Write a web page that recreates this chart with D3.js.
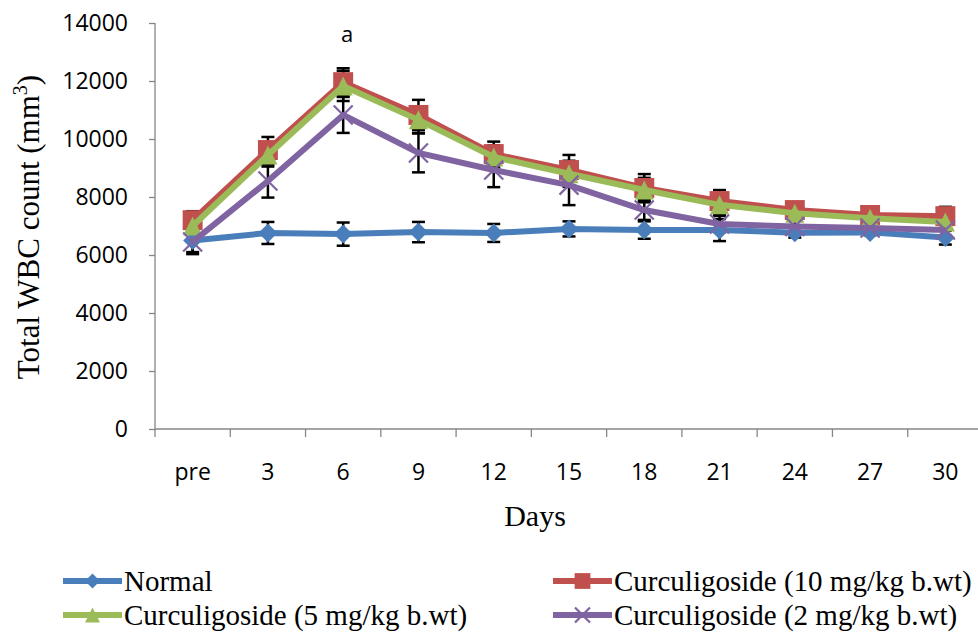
<!DOCTYPE html>
<html><head><meta charset="utf-8">
<script src="https://cdn.jsdelivr.net/npm/d3@7"></script>
<style>body{margin:0;background:#fff}svg{display:block}</style>
</head><body><svg id="c" width="978" height="635"></svg>
<script>
const days = ["pre","3","6","9","12","15","18","21","24","27","30"];
const yTicks = [0,2000,4000,6000,8000,10000,12000,14000];
const seriesNames = ["Normal","Curculigoside (10 mg/kg b.wt)","Curculigoside (5 mg/kg b.wt)","Curculigoside (2 mg/kg b.wt)"];
const normal   = [6500,6760,6720,6790,6760,6900,6860,6860,6770,6780,6600];
const normalErr= [400,380,400,350,310,260,300,380,170,100,240];
const cur10    = [7200,9620,11960,10830,9480,8930,8310,7860,7550,7380,7340];
const cur10Err = [310,450,480,520,430,520,480,380,240,200,320];
const cur5     = [7000,9450,11830,10660,9380,8800,8240,7730,7440,7270,7140];
const cur5Err  = [250,400,520,450,400,450,420,350,220,180,250];
const cur2     = [6450,8550,10830,9520,8930,8410,7550,7070,6980,6930,6860];
const cur2Err  = [420,570,620,670,590,690,340,280,200,150,200];
const annotation = "a";

const svg = d3.select("#c");
const x = d3.scaleBand().domain(days).range([155, 983]);
const y = d3.scaleLinear().domain([0, 14000]).range([429, 23]);
const axisColor = "#868686";
const tickFont = "'Open Sans', sans-serif";
const serif = "'Liberation Serif', 'Times New Roman', serif";

// y axis
const yAxis = svg.append("g").attr("transform","translate(155,0)")
  .call(d3.axisLeft(y).tickValues(yTicks).tickSize(6).tickPadding(21).tickFormat(d3.format("d")));
yAxis.selectAll("path,line").attr("stroke", axisColor).attr("stroke-width", 1.3);
yAxis.select(".domain").attr("d","M0,23V437");
yAxis.selectAll("text").attr("font-family", tickFont).attr("font-size", 23).attr("fill","#000");

// x axis
const xg = svg.append("g").attr("transform","translate(0,429)");
xg.append("line").attr("x1",155).attr("x2",983).attr("stroke",axisColor).attr("stroke-width",1.3);
xg.selectAll("line.tk").data(days.slice(1).concat(["end"])).enter().append("line")
  .attr("x1",(d,i)=>x(days[0]) + x.step()*(i+1)).attr("x2",(d,i)=>x(days[0]) + x.step()*(i+1))
  .attr("y1",0).attr("y2",8).attr("stroke",axisColor).attr("stroke-width",1.3);
xg.selectAll("text").data(days).enter().append("text")
  .attr("x", d=>x(d)+x.bandwidth()/2).attr("y", 51)
  .attr("text-anchor","middle").attr("font-family",tickFont).attr("font-size",23).text(d=>d);

// titles
svg.append("text").attr("x",535).attr("y",526).attr("text-anchor","middle")
  .attr("font-family",serif).attr("font-size",30).text("Days");
const yl = svg.append("text").attr("transform","translate(39,227) rotate(-90)").attr("text-anchor","middle")
  .attr("font-family",serif).attr("font-size",31);
yl.append("tspan").text("Total WBC count (mm");
yl.append("tspan").attr("font-size",20).attr("dy",-12).text("3");
yl.append("tspan").attr("dy",12).text(")");

const series = [
  {name: seriesNames[0], v: normal, e: normalErr, color:"#4A7EBB", m:"diamond"},
  {name: seriesNames[1], v: cur10, e: cur10Err, color:"#C0504D", m:"square"},
  {name: seriesNames[2], v: cur5, e: cur5Err, color:"#9BBB59", m:"triangle"},
  {name: seriesNames[3], v: cur2, e: cur2Err, color:"#8064A2", m:"x"}
];
const cx = d => x(d) + x.bandwidth()/2;

function marker(g, type, px, py, color, s) {
  if (type === "diamond") {
    g.append("path").attr("d",`M${px},${py-s/2}L${px+s/2},${py}L${px},${py+s/2}L${px-s/2},${py}Z`).attr("fill",color);
  } else if (type === "square") {
    const w = s*1.05;
    g.append("rect").attr("x",px-w/2).attr("y",py-w/2).attr("width",w).attr("height",w).attr("fill",color);
  } else if (type === "triangle") {
    g.append("path").attr("d",`M${px},${py-s/2}L${px+s/2},${py+s/2}L${px-s/2},${py+s/2}Z`).attr("fill",color);
  } else {
    const h = s/2;
    g.append("path").attr("d",`M${px-h},${py-h}L${px+h},${py+h}M${px-h},${py+h}L${px+h},${py-h}`)
      .attr("stroke",color).attr("stroke-width",2.2).attr("fill","none");
  }
}

// error bars (beneath lines and markers)
const eg = svg.append("g");
series.forEach(s => {
  s.v.forEach((v,i)=>{
    const px = cx(days[i]), y1 = y(v + s.e[i]), y2 = y(v - s.e[i]);
    eg.append("line").attr("x1",px).attr("x2",px).attr("y1",y1).attr("y2",y2).attr("stroke","#000").attr("stroke-width",2.5);
    [y1,y2].forEach(yy=> eg.append("line").attr("x1",px-6.5).attr("x2",px+6.5).attr("y1",yy).attr("y2",yy).attr("stroke","#000").attr("stroke-width",2.5));
  });
});

const line = d3.line().x((d,i)=>cx(days[i])).y(d=>y(d));
series.forEach(s => {
  const g = svg.append("g");
  g.append("path").attr("d", line(s.v)).attr("fill","none").attr("stroke",s.color)
    .attr("stroke-width",6).attr("stroke-linejoin","round");
  s.v.forEach((v,i)=> marker(g, s.m, cx(days[i]), y(v), s.color, 19));
});

svg.append("text").attr("x", cx("6")+4).attr("y", 42).attr("text-anchor","middle")
  .attr("font-family",tickFont).attr("font-size",22).text(annotation);

// legend
const legPos = [[63,581],[553,581],[63,615],[553,615]];
series.forEach((s,i)=>{
  const [lx,ly] = legPos[i];
  const g = svg.append("g");
  g.append("line").attr("x1",lx).attr("x2",lx+59).attr("y1",ly).attr("y2",ly).attr("stroke",s.color).attr("stroke-width",6);
  marker(g, s.m, lx+29.5, ly, s.color, 15);
  g.append("text").attr("x",lx+61).attr("y",ly+10).attr("font-family",serif).attr("font-size",29).text(s.name);
});
</script></body></html>
